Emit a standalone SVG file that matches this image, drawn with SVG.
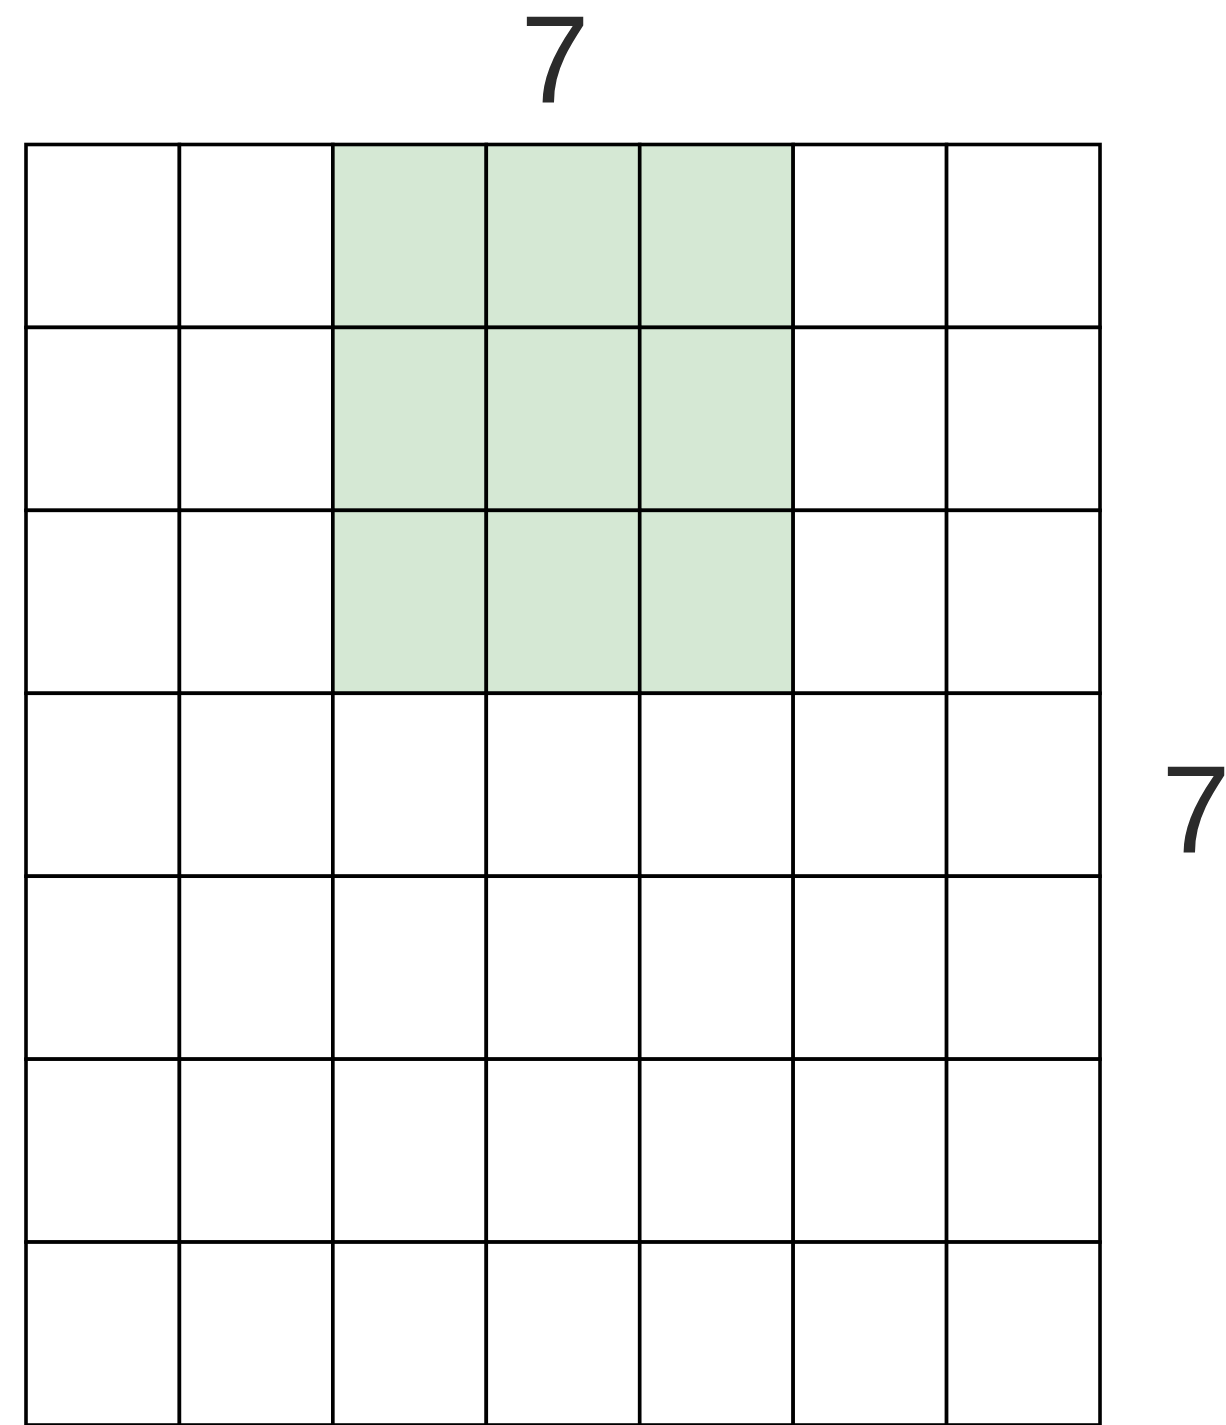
<svg xmlns="http://www.w3.org/2000/svg" xmlns:xlink="http://www.w3.org/1999/xlink" width="1226" height="1425" viewBox="0 0 1226 1425">
<style>
.cell{fill:#ffffff;stroke:#000000;stroke-width:3.6}
.hl{fill:#d5e8d4;stroke:#000000;stroke-width:3.6}
.lbl{font-family:"Liberation Sans",Arial,sans-serif;font-size:124px;fill:#2b2b2b;text-anchor:middle}
</style>
<defs>
<rect id="c" width="153.43" height="182.93"/>
</defs>
<rect width="1226" height="1425" fill="#ffffff"/>
<g id="grid">
<g id="row0">
<use xlink:href="#c" href="#c" class="cell" x="26" y="144.5"/>
<use xlink:href="#c" href="#c" class="cell" x="179.43" y="144.5"/>
<use xlink:href="#c" href="#c" class="hl" x="332.86" y="144.5"/>
<use xlink:href="#c" href="#c" class="hl" x="486.29" y="144.5"/>
<use xlink:href="#c" href="#c" class="hl" x="639.72" y="144.5"/>
<use xlink:href="#c" href="#c" class="cell" x="793.15" y="144.5"/>
<use xlink:href="#c" href="#c" class="cell" x="946.58" y="144.5"/>
</g>
<g id="row1">
<use xlink:href="#c" href="#c" class="cell" x="26" y="327.43"/>
<use xlink:href="#c" href="#c" class="cell" x="179.43" y="327.43"/>
<use xlink:href="#c" href="#c" class="hl" x="332.86" y="327.43"/>
<use xlink:href="#c" href="#c" class="hl" x="486.29" y="327.43"/>
<use xlink:href="#c" href="#c" class="hl" x="639.72" y="327.43"/>
<use xlink:href="#c" href="#c" class="cell" x="793.15" y="327.43"/>
<use xlink:href="#c" href="#c" class="cell" x="946.58" y="327.43"/>
</g>
<g id="row2">
<use xlink:href="#c" href="#c" class="cell" x="26" y="510.36"/>
<use xlink:href="#c" href="#c" class="cell" x="179.43" y="510.36"/>
<use xlink:href="#c" href="#c" class="hl" x="332.86" y="510.36"/>
<use xlink:href="#c" href="#c" class="hl" x="486.29" y="510.36"/>
<use xlink:href="#c" href="#c" class="hl" x="639.72" y="510.36"/>
<use xlink:href="#c" href="#c" class="cell" x="793.15" y="510.36"/>
<use xlink:href="#c" href="#c" class="cell" x="946.58" y="510.36"/>
</g>
<g id="row3">
<use xlink:href="#c" href="#c" class="cell" x="26" y="693.29"/>
<use xlink:href="#c" href="#c" class="cell" x="179.43" y="693.29"/>
<use xlink:href="#c" href="#c" class="cell" x="332.86" y="693.29"/>
<use xlink:href="#c" href="#c" class="cell" x="486.29" y="693.29"/>
<use xlink:href="#c" href="#c" class="cell" x="639.72" y="693.29"/>
<use xlink:href="#c" href="#c" class="cell" x="793.15" y="693.29"/>
<use xlink:href="#c" href="#c" class="cell" x="946.58" y="693.29"/>
</g>
<g id="row4">
<use xlink:href="#c" href="#c" class="cell" x="26" y="876.22"/>
<use xlink:href="#c" href="#c" class="cell" x="179.43" y="876.22"/>
<use xlink:href="#c" href="#c" class="cell" x="332.86" y="876.22"/>
<use xlink:href="#c" href="#c" class="cell" x="486.29" y="876.22"/>
<use xlink:href="#c" href="#c" class="cell" x="639.72" y="876.22"/>
<use xlink:href="#c" href="#c" class="cell" x="793.15" y="876.22"/>
<use xlink:href="#c" href="#c" class="cell" x="946.58" y="876.22"/>
</g>
<g id="row5">
<use xlink:href="#c" href="#c" class="cell" x="26" y="1059.15"/>
<use xlink:href="#c" href="#c" class="cell" x="179.43" y="1059.15"/>
<use xlink:href="#c" href="#c" class="cell" x="332.86" y="1059.15"/>
<use xlink:href="#c" href="#c" class="cell" x="486.29" y="1059.15"/>
<use xlink:href="#c" href="#c" class="cell" x="639.72" y="1059.15"/>
<use xlink:href="#c" href="#c" class="cell" x="793.15" y="1059.15"/>
<use xlink:href="#c" href="#c" class="cell" x="946.58" y="1059.15"/>
</g>
<g id="row6">
<use xlink:href="#c" href="#c" class="cell" x="26" y="1242.08"/>
<use xlink:href="#c" href="#c" class="cell" x="179.43" y="1242.08"/>
<use xlink:href="#c" href="#c" class="cell" x="332.86" y="1242.08"/>
<use xlink:href="#c" href="#c" class="cell" x="486.29" y="1242.08"/>
<use xlink:href="#c" href="#c" class="cell" x="639.72" y="1242.08"/>
<use xlink:href="#c" href="#c" class="cell" x="793.15" y="1242.08"/>
<use xlink:href="#c" href="#c" class="cell" x="946.58" y="1242.08"/>
</g>
</g>
<g id="connectors"></g>
<g id="label-top"><text class="lbl" x="555" y="102">7</text></g>
<g id="label-right"><text class="lbl" x="1196" y="852">7</text></g>
</svg>
